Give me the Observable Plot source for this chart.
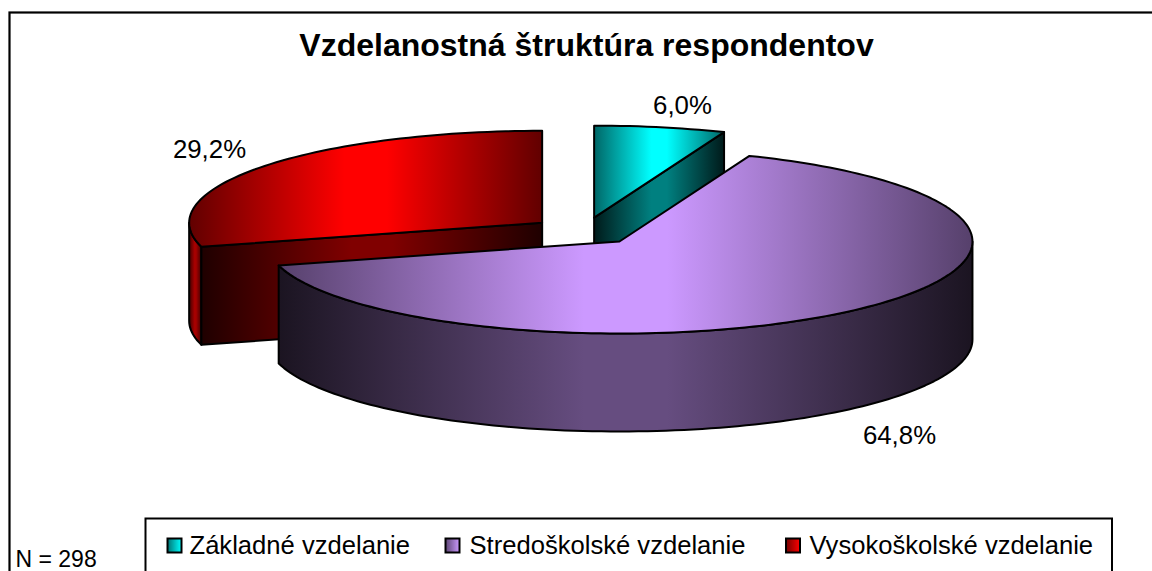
<!DOCTYPE html>
<html>
<head>
<meta charset="utf-8">
<script src="https://cdn.jsdelivr.net/npm/d3@7"></script>
<script src="https://cdn.jsdelivr.net/npm/@observablehq/plot@0.6"></script>
<style>
html,body{margin:0;padding:0;background:#fff;overflow:hidden}
svg{display:block}
</style>
</head>
<body>
<div id="chart"></div>
<script>
const title = "Vzdelanostná štruktúra respondentov";
const note = "N = 298";
const categories = ["Základné vzdelanie", "Stredoškolské vzdelanie", "Vysokoškolské vzdelanie"];
const shares = [6.0, 64.8, 29.2];
const colors = ["#00ffff", "#cc99ff", "#ff0000"];
const labelX = [682, 899, 209];
const labelY = [105, 435, 149];
const legendSwatchX = [174.5, 452.5, 793];
const legendTextX = [189, 469, 809];

const width = 1152, height = 571;
const cx = 583.7, cy = 230.7, rx = 353, ry = 92, depth = 98, explode = 0.15;
const rad = Math.PI / 180;

const total = d3.sum(shares);
let acc = 0;
const slices = categories.map((name, i) => {
  const start = acc / total * 360;
  acc += shares[i];
  const end = acc / total * 360;
  const mid = (start + end) / 2 * rad;
  return {
    i, name, start, end, color: colors[i],
    ax: cx + explode * rx * Math.sin(mid),
    ay: cy - explode * ry * Math.cos(mid)
  };
});
const rimPt = (s, deg, z = 0) => ({
  x: s.ax + rx * Math.sin(deg * rad),
  y: s.ay - ry * Math.cos(deg * rad) + z
});
const arc = (s, a, b, z = 0) => {
  const n = Math.max(2, Math.ceil(Math.abs(b - a) / 1.5));
  return d3.range(n + 1).map(k => rimPt(s, a + (b - a) * k / n, z));
};
const topFace = s => {
  const p = [{x: s.ax, y: s.ay}, ...arc(s, s.start, s.end)];
  return [...p, p[0]];
};
const rimFace = (s, a, b) => {
  const p = [...arc(s, a, b), ...arc(s, a, b, depth).reverse()];
  return [...p, p[0]];
};
const cutFace = (s, deg) => {
  const e = rimPt(s, deg);
  const p = [{x: s.ax, y: s.ay}, e, {x: e.x, y: e.y + depth}, {x: s.ax, y: s.ay + depth}];
  return [...p, p[0]];
};

const [cyan, purple, red] = slices;
// painter's order: red, cyan, purple in front; [points, colour, edge shade, centre shade]
const faces = [
  [rimFace(red, red.start, 270), red.color, 0.25, 0.65],
  [cutFace(red, red.start), red.color, 0.12, 0.5],
  [topFace(red), red.color, 0.38, 1],
  [cutFace(cyan, cyan.end), cyan.color, 0.1, 0.5],
  [topFace(cyan), cyan.color, 0.4, 1],
  [rimFace(purple, 90, purple.end), purple.color, 0.13, 0.5],
  [topFace(purple), purple.color, 0.42, 1]
].map(([points, color, edge, centre], k) => ({points, color, edge, centre, id: `shade${k}`,
  x0: d3.min(points, d => d.x), x1: d3.max(points, d => d.x)}));

const shade = (c, f) => { const r = d3.rgb(c); return d3.rgb(r.r * f, r.g * f, r.b * f).formatHex(); };

const gradients = (index, scales) => {
  const ns = "http://www.w3.org/2000/svg";
  const defs = document.createElementNS(ns, "defs");
  const add = (id, x0, x1, stops) => {
    const g = document.createElementNS(ns, "linearGradient");
    g.setAttribute("id", id);
    g.setAttribute("gradientUnits", "userSpaceOnUse");
    g.setAttribute("x1", scales.x(x0)); g.setAttribute("x2", scales.x(x1));
    g.setAttribute("y1", 0); g.setAttribute("y2", 0);
    stops.forEach(([o, c]) => {
      const s = document.createElementNS(ns, "stop");
      s.setAttribute("offset", o); s.setAttribute("stop-color", c);
      g.appendChild(s);
    });
    defs.appendChild(g);
  };
  faces.forEach(f => add(f.id, f.x0, f.x1, [[0, shade(f.color, f.edge)], [0.44, shade(f.color, f.centre)], [0.56, shade(f.color, f.centre)], [1, shade(f.color, f.edge)]]));
  slices.forEach(s => add(`swatch${s.i}`, legendSwatchX[s.i] - 7, legendSwatchX[s.i] + 7, [[0, shade(s.color, 0.45)], [1, s.color]]));
  return defs;
};

const legendY = 545.5;
const legendRows = slices.map(s => ({name: s.name, sx: legendSwatchX[s.i], tx: legendTextX[s.i], id: `url(#swatch${s.i})`}));
const font = "Liberation Sans, Arial, sans-serif";

const chart = Plot.plot({
  width, height,
  margin: 0,
  style: {background: "#fff", fontFamily: font},
  x: {domain: [0, width], range: [0, width], axis: null},
  y: {domain: [0, height], range: [0, height], axis: null},
  marks: [
    gradients,
    // chart frame (its right and bottom edges run past the picture)
    Plot.rect([{x1: 9.5, x2: 1180, y1: 12.5, y2: 620}], {x1: "x1", x2: "x2", y1: "y1", y2: "y2", fill: "white", stroke: "black", strokeWidth: 2.2}),
    ...faces.map(f => Plot.line(f.points, {x: "x", y: "y", fill: `url(#${f.id})`, stroke: "black", strokeWidth: 2, strokeLinejoin: "round"})),
    Plot.text([title], {x: () => 586, y: () => 45, text: d => d, fontSize: 32, fontWeight: "bold", fill: "black"}),
    Plot.text(slices, {x: d => labelX[d.i], y: d => labelY[d.i], text: d => `${shares[d.i].toFixed(1).replace(".", ",")}%`, fontSize: 25.8, fill: "black"}),
    Plot.text([note], {x: () => 15, y: () => 559, text: d => d, textAnchor: "start", fontSize: 23, fill: "black"}),
    // legend box
    Plot.rect([{x1: 145.5, x2: 1112, y1: 518.5, y2: 620}], {x1: "x1", x2: "x2", y1: "y1", y2: "y2", fill: "white", stroke: "black", strokeWidth: 2}),
    Plot.rect(legendRows, {x1: d => d.sx - 7, x2: d => d.sx + 7, y1: () => legendY - 7, y2: () => legendY + 7, fill: d => d.id, stroke: "black", strokeWidth: 2}),
    Plot.text(legendRows, {x: "tx", y: () => legendY, text: "name", textAnchor: "start", fontSize: 25.6, fill: "black"})
  ]
});
document.getElementById("chart").appendChild(chart);
</script>
</body>
</html>
